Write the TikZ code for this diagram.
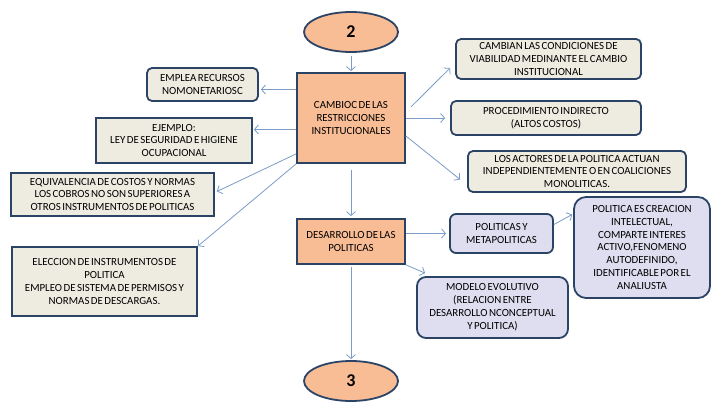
\documentclass[tikz,border=0pt]{standalone}
\usepackage{fontspec}
\setmainfont{Carlito}[WordSpace=0.6]
\usetikzlibrary{shapes.geometric,arrows.meta,calc}
\definecolor{navy}{HTML}{2B4466}
\definecolor{peach}{HTML}{F9BD96}
\definecolor{beige}{HTML}{EEECE1}
\definecolor{lav}{HTML}{DEDEF0}
\definecolor{arrowc}{HTML}{7A9CC6}
\tikzset{
  box/.style={draw=navy, line width=1.8pt, inner sep=0pt, align=center,
    font=\fontsize{10.9}{12.9}\selectfont, text=black},
  graybox/.style={box, fill=beige},
  grayround/.style={box, fill=beige, rounded corners=5pt},
  orbox/.style={box, fill=peach},
  lavbox/.style={box, fill=lav, rounded corners=6pt},
  oval/.style={ellipse, draw=navy, line width=1.8pt, fill=peach, inner sep=0pt,
    font=\fontsize{18}{18}\selectfont\bfseries},
  arr/.style={draw=arrowc, line width=0.8pt, -{Straight Barb[length=4pt,width=9pt]}}
}
\begin{document}
\begin{tikzpicture}[x=1pt,y=-1pt]
\useasboundingbox (0,0) rectangle (720,420);
% central column
\node[oval, minimum width=94, minimum height=40] (e2) at (351,32) {2};
\node[orbox, minimum width=108, minimum height=90] (cambio) at (351,118)
  {CAMBIOC DE LAS\\RESTRICCIONES\\INSTITUCIONALES};
\node[orbox, minimum width=108, minimum height=45] (desarrollo) at (351,241.5)
  {DESARROLLO DE LAS\\POLITICAS};
\node[oval, minimum width=94, minimum height=40] (e3) at (351,381) {3};
% left
\node[grayround, minimum width=111, minimum height=33] (emplea) at (202.5,84.5)
  {EMPLEA RECURSOS\\NOMONETARIOSC};
\node[graybox, minimum width=156, minimum height=45] (ejemplo) at (174,140.5)
  {EJEMPLO:\\LEY DE SEGURIDAD E HIGIENE\\OCUPACIONAL};
\node[graybox, minimum width=203, minimum height=43] (equiv) at (112.5,194.5)
  {EQUIVALENCIA DE COSTOS Y NORMAS\\LOS COBROS NO SON SUPERIORES A\\OTROS INSTRUMENTOS DE POLITICAS};
\node[graybox, minimum width=185, minimum height=69] (elecc) at (104.5,281.5)
  {ELECCION DE INSTRUMENTOS DE\\POLITICA\\EMPLEO DE SISTEMA DE PERMISOS Y\\NORMAS DE DESCARGAS.};
% right
\node[grayround, minimum width=185, minimum height=40] (cambian) at (548.5,59)
  {CAMBIAN LAS CONDICIONES DE\\VIABILIDAD MEDINANTE EL CAMBIO\\INSTITUCIONAL};
\node[grayround, minimum width=190, minimum height=34] (proced) at (546,118)
  {PROCEDIMIENTO INDIRECTO\\(ALTOS COSTOS)};
\node[grayround, minimum width=218, minimum height=41] (actores) at (577,171.5)
  {LOS ACTORES DE LA POLITICA ACTUAN\\INDEPENDIENTEMENTE O EN COALICIONES\\MONOLITICAS.};
\node[lavbox, minimum width=103, minimum height=39] (polit) at (501.5,233.5)
  {POLITICAS Y\\METAPOLITICAS};
\node[lavbox, rounded corners=12pt, minimum width=136, minimum height=101] (politica) at (642,247.5)
  {POLITICA ES CREACION\\INTELECTUAL,\\COMPARTE INTERES\\ACTIVO,FENOMENO\\AUTODEFINIDO,\\IDENTIFICABLE POR EL\\ANALIUSTA};
\node[lavbox, rounded corners=9pt, minimum width=151, minimum height=61] (modelo) at (492.5,307.5)
  {MODELO EVOLUTIVO\\(RELACION ENTRE\\DESARROLLO NCONCEPTUAL\\Y POLITICA)};
% helper coordinates
\coordinate (empP) at ($(emplea.east)+(2,5)$);
\coordinate (ejeP) at ($(ejemplo.east)+(1,-11)$);
\coordinate (eqS) at ($(cambio.south west)+(0,-10)$);
\coordinate (eqP) at ($(equiv.east)+(2,-3)$);
\coordinate (caS) at ($(cambio.east)+(5,-11)$);
\coordinate (caP) at ($(cambian.west)+(-5,9)$);
\coordinate (prP) at ($(proced.west)+(-5,0)$);
\coordinate (acS) at ($(cambio.east)+(0,18)$);
\coordinate (acP) at ($(actores.west)+(-7,8)$);
\coordinate (poS) at ($(polit.east)+(0,-9)$);
\coordinate (poP) at ($(politica.west)+(-1,-33)$);
\coordinate (moP) at ($(modelo.north west)+(9,-3)$);
% connectors
\draw[arr, shorten <=3pt, shorten >=1pt] (e2.south) -- (cambio.north);
\draw[arr] (cambio.west |- empP) -- (empP);
\draw[arr] (cambio.west |- ejeP) -- (ejeP);
\draw[arr] (eqS) -- (eqP);
\draw[arr] (cambio.south west) -- (elecc.north east);
\draw[arr] (caS) -- (caP);
\draw[arr] (cambio.east) -- (prP);
\draw[arr] (acS) -- (acP);
\draw[arr, shorten <=6pt, shorten >=2pt] (cambio.south) -- (desarrollo.north);
\draw[arr, shorten >=3pt] (desarrollo.east |- polit.west) -- (polit.west);
\draw[arr] (poS) -- (poP);
\draw[arr] (desarrollo.south east) -- (moP);
\draw[arr, shorten <=2pt, shorten >=1pt] (desarrollo.south) -- (e3.north);
\end{tikzpicture}
\end{document}
